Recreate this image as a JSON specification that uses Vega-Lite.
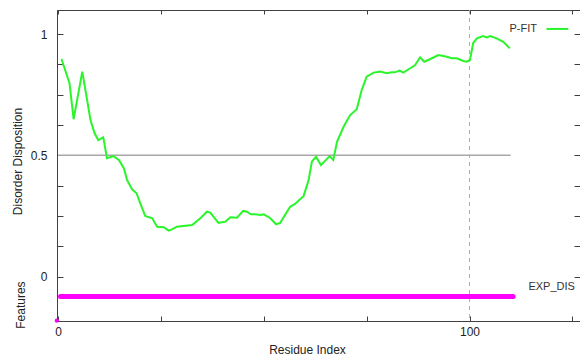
{
  "$schema": "https://vega.github.io/schema/vega-lite/v6.json",
  "width": 523,
  "height": 311,
  "autosize": {"type": "none"},
  "padding": {"left": 57, "top": 10, "right": 0, "bottom": 35},
  "background": "white",
  "config": {
    "view": {"stroke": "#404040", "strokeWidth": 1},
    "font": "Liberation Sans",
    "axis": {"grid": false, "domainColor": "#404040", "tickColor": "#404040", "labelColor": "#222", "titleColor": "#222", "labelFont": "Liberation Sans", "titleFont": "Liberation Sans", "labelFontSize": 12, "titleFontSize": 12, "titleFontWeight": "normal"}
  },
  "datasets": {
    "pfit": [
      {"residue": 0.85, "score": 0.897}, {"residue": 2.8, "score": 0.797}, {"residue": 3.8, "score": 0.649},
      {"residue": 5.9, "score": 0.845}, {"residue": 7.9, "score": 0.646}, {"residue": 8.9, "score": 0.591},
      {"residue": 9.8, "score": 0.563}, {"residue": 11.0, "score": 0.574}, {"residue": 11.9, "score": 0.488},
      {"residue": 13.5, "score": 0.497}, {"residue": 14.8, "score": 0.481}, {"residue": 16.0, "score": 0.447},
      {"residue": 16.8, "score": 0.398}, {"residue": 18.0, "score": 0.360}, {"residue": 19.1, "score": 0.344},
      {"residue": 20.0, "score": 0.302}, {"residue": 21.2, "score": 0.250}, {"residue": 22.9, "score": 0.241},
      {"residue": 24.1, "score": 0.206}, {"residue": 25.7, "score": 0.204}, {"residue": 26.9, "score": 0.190},
      {"residue": 27.7, "score": 0.195}, {"residue": 28.9, "score": 0.206}, {"residue": 32.6, "score": 0.213},
      {"residue": 34.6, "score": 0.241}, {"residue": 36.2, "score": 0.268}, {"residue": 37.0, "score": 0.264},
      {"residue": 39.0, "score": 0.222}, {"residue": 40.7, "score": 0.227}, {"residue": 41.9, "score": 0.245},
      {"residue": 43.5, "score": 0.243}, {"residue": 45.0, "score": 0.271}, {"residue": 45.9, "score": 0.268},
      {"residue": 46.9, "score": 0.257}, {"residue": 47.9, "score": 0.257}, {"residue": 49.2, "score": 0.254},
      {"residue": 50.0, "score": 0.257}, {"residue": 51.6, "score": 0.241}, {"residue": 53.0, "score": 0.216},
      {"residue": 54.0, "score": 0.222}, {"residue": 56.4, "score": 0.288}, {"residue": 57.6, "score": 0.300},
      {"residue": 59.7, "score": 0.333}, {"residue": 60.9, "score": 0.398}, {"residue": 61.7, "score": 0.474},
      {"residue": 62.7, "score": 0.494}, {"residue": 63.9, "score": 0.460}, {"residue": 66.0, "score": 0.497},
      {"residue": 66.9, "score": 0.481}, {"residue": 67.8, "score": 0.556}, {"residue": 69.4, "score": 0.618},
      {"residue": 71.0, "score": 0.666}, {"residue": 72.6, "score": 0.690}, {"residue": 73.8, "score": 0.769},
      {"residue": 75.0, "score": 0.824}, {"residue": 76.7, "score": 0.841}, {"residue": 78.3, "score": 0.845},
      {"residue": 79.9, "score": 0.838}, {"residue": 81.1, "score": 0.842}, {"residue": 81.9, "score": 0.842},
      {"residue": 83.0, "score": 0.849}, {"residue": 83.9, "score": 0.841}, {"residue": 85.6, "score": 0.859},
      {"residue": 86.8, "score": 0.872}, {"residue": 88.0, "score": 0.904}, {"residue": 89.0, "score": 0.886},
      {"residue": 90.4, "score": 0.896}, {"residue": 92.4, "score": 0.913}, {"residue": 94.5, "score": 0.906},
      {"residue": 95.7, "score": 0.900}, {"residue": 96.9, "score": 0.900}, {"residue": 98.5, "score": 0.889},
      {"residue": 99.3, "score": 0.886}, {"residue": 100.1, "score": 0.893}, {"residue": 100.9, "score": 0.963},
      {"residue": 101.8, "score": 0.982}, {"residue": 103.3, "score": 0.992}, {"residue": 104.2, "score": 0.986},
      {"residue": 105.0, "score": 0.992}, {"residue": 106.6, "score": 0.982}, {"residue": 108.2, "score": 0.968},
      {"residue": 109.8, "score": 0.941}
    ],
    "threshold": [{"start": 0, "end": 110, "level": 0.5}],
    "marker": [{"residue": 100}],
    "features": [{"start": 0.6, "end": 110.6, "level": -0.082, "name": "EXP_DIS"}],
    "corner": [{"residue": -0.3, "level": -0.181}],
    "legendline": [{"start": 118.7, "end": 124.0, "level": 1.021}],
    "labels": [
      {"text": "P-FIT", "x": 116.4, "y": 1.021},
      {"text": "EXP_DIS", "x": 125.6, "y": -0.041}
    ],
    "sidetitle": [{"text": "Features", "x": -9.0, "y": -0.117}]
  },
  "resolve": {"axis": {"x": "independent", "y": "independent"}},
  "layer": [
    {
      "data": {"name": "threshold"},
      "mark": {"type": "rule", "color": "#a8a8a8", "strokeWidth": 1.5},
      "encoding": {
        "x": {"field": "start", "type": "quantitative", "scale": {"domain": [-0.24, 126.85], "nice": false, "zero": false},
          "axis": {"orient": "bottom", "values": [0, 25, 50, 75, 100, 125], "labelExpr": "datum.value % 100 == 0 ? datum.label : ''", "tickSize": -5, "labelPadding": 10, "title": "Residue Index", "titleAnchor": null, "titleX": 250, "titleY": 28, "titleBaseline": "middle", "labelFlush": false}},
        "x2": {"field": "end"},
        "y": {"field": "level", "type": "quantitative", "scale": {"domain": [-0.1825, 1.099], "nice": false, "zero": false},
          "axis": {"orient": "left", "values": [0, 0.125, 0.25, 0.375, 0.5, 0.625, 0.75, 0.875, 1], "format": "~g", "labelExpr": "datum.value % 0.5 == 0 ? datum.label : ''", "tickSize": -6, "labelPadding": 16, "title": "Disorder Disposition", "titleAnchor": null, "titleX": -33, "titleY": 151, "labelFlush": false}}
      }
    },
    {
      "data": {"name": "marker"},
      "mark": {"type": "rule", "color": "#b0b0b0", "strokeWidth": 1, "strokeDash": [4, 4]},
      "encoding": {
        "x": {"field": "residue", "type": "quantitative",
          "axis": {"orient": "top", "values": [0, 25, 50, 75, 100, 125], "labels": false, "tickSize": -4, "title": null, "domain": false}}
      }
    },
    {
      "data": {"name": "features"},
      "mark": {"type": "rule", "color": "#ff00ff", "strokeWidth": 5, "strokeCap": "round"},
      "encoding": {
        "x": {"field": "start", "type": "quantitative", "axis": null},
        "x2": {"field": "end"},
        "y": {"field": "level", "type": "quantitative",
          "axis": {"orient": "right", "values": [0, 0.125, 0.25, 0.375, 0.5, 0.625, 0.75, 0.875, 1], "labels": false, "tickSize": -6, "title": null, "domain": false}}
      }
    },
    {
      "data": {"name": "pfit"},
      "mark": {"type": "line", "color": "#2af52a", "strokeWidth": 2},
      "encoding": {
        "x": {"field": "residue", "type": "quantitative", "axis": null},
        "y": {"field": "score", "type": "quantitative", "axis": null}
      }
    },
    {
      "data": {"name": "legendline"},
      "mark": {"type": "rule", "color": "#2af52a", "strokeWidth": 2},
      "encoding": {
        "x": {"field": "start", "type": "quantitative", "axis": null},
        "x2": {"field": "end"},
        "y": {"field": "level", "type": "quantitative", "axis": null}
      }
    },
    {
      "data": {"name": "corner"},
      "mark": {"type": "point", "filled": true, "color": "#ff00ff", "size": 18, "opacity": 1, "clip": false},
      "encoding": {
        "x": {"field": "residue", "type": "quantitative", "axis": null},
        "y": {"field": "level", "type": "quantitative", "axis": null}
      }
    },
    {
      "data": {"name": "labels"},
      "mark": {"type": "text", "align": "right", "baseline": "middle", "fontSize": 11, "color": "#333", "font": "Liberation Sans"},
      "encoding": {
        "x": {"field": "x", "type": "quantitative", "axis": null},
        "y": {"field": "y", "type": "quantitative", "axis": null},
        "text": {"field": "text"}
      }
    },
    {
      "data": {"name": "sidetitle"},
      "mark": {"type": "text", "align": "center", "baseline": "middle", "angle": 270, "fontSize": 12, "color": "#222", "font": "Liberation Sans", "clip": false},
      "encoding": {
        "x": {"field": "x", "type": "quantitative", "axis": null},
        "y": {"field": "y", "type": "quantitative", "axis": null},
        "text": {"field": "text"}
      }
    }
  ]
}
